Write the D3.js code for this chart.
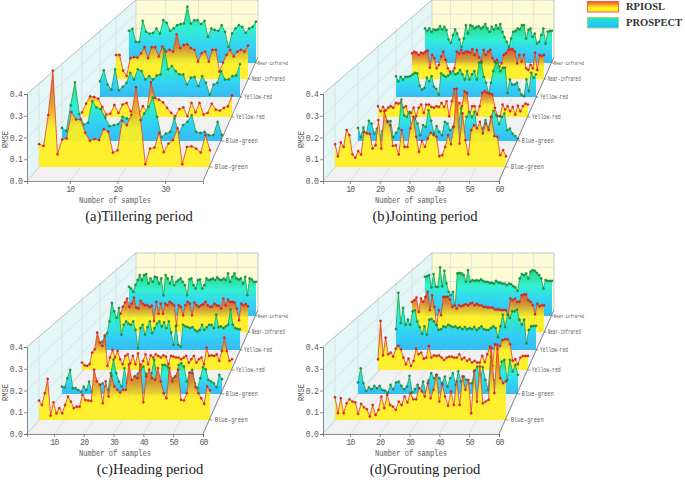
<!DOCTYPE html>
<html><head><meta charset="utf-8">
<script src="https://cdn.jsdelivr.net/npm/d3@7"></script>
<style>html,body{margin:0;background:#fff}svg{display:block}</style></head>
<body><div id="c"></div>
<script>
const bandLabels=["Blue-green","Blue-green","Yellow-red","Yellow-red","Near-infrared","Near-infrared"];
const methodLabels=["RPIOSL","PROSPECT"];
const rmseTicks=[0,0.1,0.2,0.3,0.4];
const titles=["(a)Tillering period","(b)Jointing period","(c)Heading period","(d)Grouting period"];
const sampleTicks38=[10,20,30];
const sampleTicks60=[10,20,30,40,50,60];

const tilleringBlueR=[.108,.100,.246,.456,.060,.130,.135,.260,.225,.225,.162,.124,.132,.127,.179,.167,.068,.079,.219,.198,.246,.378,.222,.013,.087,.092,.162,.070,.111,.127,.183,.013,.095,.098,.087,.068,.151,.079];
const tilleringBlueP=[.066,.051,.180,.297,.136,.083,.092,.202,.169,.161,.119,.075,.080,.085,.122,.114,.114,.122,.102,.139,.173,.220,.122,.020,.037,.046,.114,.041,.080,.097,.131,.046,.041,.046,.029,.029,.097,.029];
const tilleringYellowR=[.025,.072,.112,.108,.099,.054,.013,.018,.065,.022,.067,.076,.031,.025,.013,.058,.031,.187,.103,.094,.079,.049,.022,.004,.043,.052,.004,.076,.025,.076,.013,.022,.072,.040,.034,.049,.058,.117];
const tilleringYellowP=[.090,.152,.071,.042,.158,.038,.058,.081,.138,.100,.158,.148,.100,.119,.100,.123,.129,.273,.158,.177,.148,.129,.129,.071,.110,.115,.062,.119,.081,.013,.071,.081,.148,.100,.100,.119,.123,.187];
const tilleringNirR=[.147,.147,.051,.018,.127,.133,.131,.157,.194,.127,.194,.194,.137,.198,.167,.178,.167,.273,.188,.208,.212,.188,.178,.106,.157,.167,.106,.178,.178,.045,.100,.147,.178,.137,.167,.178,.167,.204];
const tilleringNirP=[.204,.217,.134,.134,.268,.198,.187,.191,.219,.187,.272,.255,.204,.219,.240,.247,.251,.357,.251,.272,.272,.247,.268,.166,.219,.209,.204,.240,.198,.102,.187,.219,.240,.230,.191,.219,.230,.262];

const jointingBlueR=[.108,.051,.116,.095,.175,.151,.060,.044,.075,.059,.165,.159,.156,.087,.103,.222,.087,.265,.214,.198,.100,.103,.059,.175,.095,.095,.183,.238,.143,.071,.124,.095,.135,.162,.151,.143,.051,.056,.095,.151,.108,.190,.370,.111,.254,.127,.060,.175,.198,.183,.214,.159,.206,.175,.238,.146,.143,.056,.080,.051];
const jointingBlueP=[.066,.020,.068,.029,.102,.088,.037,.063,.020,.050,.122,.100,.100,.020,.041,.063,.210,.130,.122,.147,.020,.114,.088,.029,.080,.071,.156,.102,.037,.075,.046,.029,.097,.088,.054,.071,.114,.071,.165,.046,.122,.147,.122,.147,.046,.054,.063,.105,.063,.122,.153,.131,.085,.122,.139,.054,.063,.037,.025,.012];
const jointingYellowR=[.058,.031,.054,.036,.050,.058,.050,.076,.072,.079,.050,.058,.013,.022,.050,.004,.050,.067,.022,.067,.067,.054,.050,.058,.054,.076,.054,.085,.004,.085,.151,.040,.076,.058,.139,.130,.004,.058,.058,.013,.058,.130,.139,.130,.126,.121,.049,.004,.004,.067,.040,.058,.031,.054,.013,.061,.031,.058,.072,.067];
const jointingYellowP=[.119,.090,.115,.100,.115,.115,.119,.129,.138,.135,.065,.042,.052,.110,.090,.119,.058,.046,.013,.135,.123,.115,.123,.135,.148,.129,.135,.154,.129,.100,.148,.100,.129,.148,.100,.196,.196,.115,.081,.019,.081,.148,.196,.196,.148,.167,.167,.023,.100,.071,.071,.081,.042,.013,.004,.100,.033,.138,.110,.129];
const jointingNirR=[.157,.167,.161,.147,.161,.157,.167,.173,.069,.147,.127,.065,.086,.137,.167,.116,.065,.045,.024,.065,.167,.157,.178,.157,.167,.167,.161,.182,.147,.178,.133,.106,.178,.147,.167,.178,.127,.106,.116,.076,.096,.147,.157,.178,.182,.182,.167,.096,.147,.106,.147,.065,.055,.086,.065,.161,.055,.147,.141,.147];
const jointingNirP=[.219,.204,.219,.198,.213,.209,.213,.234,.213,.230,.209,.149,.128,.177,.213,.187,.149,.102,.155,.240,.187,.240,.234,.219,.230,.234,.219,.230,.247,.219,.198,.230,.213,.240,.219,.247,.198,.162,.134,.102,.155,.198,.204,.219,.213,.240,.240,.155,.209,.219,.166,.187,.123,.134,.177,.219,.123,.198,.204,.204];

const headingBlueR=[.092,.071,.127,.195,.021,.083,.032,.056,.032,.071,.111,.087,.056,.063,.063,.119,.095,.092,.090,.238,.183,.167,.079,.183,.111,.210,.159,.143,.130,.143,.143,.262,.190,.206,.198,.262,.084,.206,.238,.198,.190,.246,.183,.127,.103,.246,.183,.206,.238,.095,.092,.127,.225,.222,.156,.127,.103,.076,.159,.140];
const headingBlueP=[.037,.034,.080,.122,.029,.029,.020,.012,.037,.020,.063,.012,.020,.029,.046,.054,.037,.020,.105,.173,.105,.063,.037,.131,.054,.020,.054,.088,.102,.122,.139,.102,.054,.105,.173,.080,.037,.147,.147,.139,.054,.080,.063,.147,.156,.139,.063,.105,.122,.054,.029,.080,.136,.125,.071,.063,.054,.034,.097,.075];
const headingYellowR=[.040,.025,.022,.031,.094,.112,.202,.148,.130,.187,.022,.067,.108,.067,.103,.058,.031,.076,.085,.036,.076,.031,.090,.013,.049,.085,.031,.079,.067,.085,.076,.067,.079,.072,.031,.076,.072,.067,.067,.058,.067,.076,.040,.058,.076,.040,.058,.067,.031,.121,.076,.079,.076,.085,.049,.103,.175,.103,.049,.058];
const headingYellowP=[.029,.048,.077,.096,.163,.269,.220,.183,.240,.087,.144,.163,.150,.144,.163,.115,.010,.125,.144,.087,.130,.163,.096,.125,.150,.163,.135,.158,.125,.163,.100,.029,.135,.029,.019,.144,.135,.131,.125,.131,.115,.106,.115,.144,.115,.130,.144,.144,.125,.202,.130,.135,.125,.135,.144,.231,.144,.125,.120,.119];
const headingNirR=[.061,.092,.112,.153,.180,.204,.153,.173,.210,.149,.143,.190,.173,.163,.163,.153,.160,.067,.184,.112,.173,.112,.173,.163,.184,.175,.163,.041,.163,.153,.102,.163,.184,.173,.102,.180,.163,.153,.163,.170,.184,.163,.153,.155,.173,.163,.160,.143,.204,.163,.198,.184,.184,.180,.143,.071,.173,.163,.170,.157];
const headingNirP=[.185,.174,.153,.196,.228,.260,.228,.260,.266,.206,.238,.217,.249,.245,.206,.238,.132,.260,.238,.206,.249,.196,.217,.228,.238,.217,.196,.132,.232,.238,.196,.174,.228,.232,.174,.196,.238,.228,.232,.238,.228,.245,.232,.228,.238,.228,.270,.217,.249,.270,.238,.232,.238,.206,.249,.132,.238,.232,.217,.217];

const groutingBlueR=[.108,.032,.103,.032,.079,.098,.087,.083,.029,.076,.060,.051,.016,.071,.024,.048,.111,.056,.119,.071,.063,.048,.087,.071,.111,.083,.127,.098,.098,.151,.135,.111,.175,.103,.143,.214,.087,.167,.111,.067,.135,.071,.183,.071,.206,.143,.190,.032,.230,.087,.254,.079,.087,.095,.341,.127,.357,.198,.175,.183];
const groutingBlueP=[.058,.130,.054,.015,.034,.024,.041,.029,.041,.020,.017,.007,.046,.024,.058,.063,.041,.024,.037,.092,.007,.024,.046,.020,.063,.007,.068,.105,.080,.097,.080,.054,.088,.037,.080,.105,.046,.114,.063,.088,.071,.054,.054,.119,.139,.054,.136,.071,.020,.190,.071,.054,.097,.164,.173,.071,.173,.114,.147,.097];
const groutingYellowR=[.058,.265,.079,.175,.085,.094,.072,.115,.130,.112,.067,.031,.061,.022,.049,.115,.085,.094,.061,.067,.130,.067,.079,.076,.079,.067,.054,.067,.072,.072,.067,.067,.085,.058,.067,.049,.058,.040,.049,.040,.040,.076,.043,.085,.126,.022,.139,.112,.130,.162,.166,.166,.139,.049,.058,.031,.067,.076,.076,.076];
const groutingYellowP=[.119,.327,.154,.240,.144,.173,.144,.221,.227,.163,.131,.092,.135,.087,.173,.177,.163,.144,.115,.119,.135,.131,.144,.138,.131,.135,.125,.131,.119,.131,.119,.125,.119,.131,.115,.125,.135,.119,.115,.115,.125,.135,.125,.073,.135,.202,.131,.202,.183,.221,.221,.231,.173,.144,.173,.038,.115,.135,.138,.138];
const groutingNirR=[.184,.194,.210,.122,.204,.184,.214,.245,.133,.224,.153,.041,.133,.102,.214,.214,.214,.198,.153,.163,.143,.163,.157,.163,.170,.163,.173,.178,.163,.173,.163,.163,.153,.153,.149,.149,.149,.137,.137,.137,.133,.133,.133,.102,.204,.194,.204,.184,.184,.224,.229,.229,.194,.184,.163,.108,.173,.157,.163,.163];
const groutingNirP=[.249,.253,.260,.181,.266,.185,.185,.309,.189,.287,.206,.153,.132,.153,.047,.270,.274,.270,.260,.217,.291,.217,.228,.223,.228,.223,.232,.223,.217,.217,.211,.211,.206,.223,.213,.211,.206,.206,.196,.206,.202,.189,.181,.160,.238,.266,.260,.270,.238,.281,.291,.287,.274,.260,.238,.174,.228,.223,.223,.223];

const panels=[
 {ox:27,oy:181,cx:139,n:38,ticks:sampleTicks38,series:[tilleringBlueR,tilleringBlueP,tilleringYellowR,tilleringYellowP,tilleringNirR,tilleringNirP]},
 {ox:323,oy:181,cx:425,n:60,ticks:sampleTicks60,series:[jointingBlueR,jointingBlueP,jointingYellowR,jointingYellowP,jointingNirR,jointingNirP]},
 {ox:27,oy:434,cx:150,n:60,ticks:sampleTicks60,series:[headingBlueR,headingBlueP,headingYellowR,headingYellowP,headingNirR,headingNirP]},
 {ox:323,oy:434,cx:425,n:60,ticks:sampleTicks60,series:[groutingBlueR,groutingBlueP,groutingYellowR,groutingYellowP,groutingNirR,groutingNirP]}
];

const W=685,H=480,frontW=176;
const depths=[0,1,2,3,4,5,6];
const rise=d3.scaleLinear().domain(depths).range([14,40,64,84,102,118,124]);
const leftIn=d3.scaleLinear().domain(depths).range([12,35,55,73,89,102,109]);
const rightOut=d3.scaleLinear().domain(depths).range([7,19,29,37,45,53,55]);
const unit=d3.scaleLinear().domain(depths).range([84.5,79,74,70,65.5,63,57]);
const labelFont=d3.scaleLinear().domain([0,5]).range([8,6.2]);
const labelWidth=[33,32,29,28,33,30];
const labelGap=[4.7,3.7,3.7,4,3.7,2];

const svg=d3.select("#c").append("svg").attr("width",W).attr("height",H)
  .style("font-family","'Liberation Mono','DejaVu Sans Mono',monospace");
const defs=svg.append("defs");
const ink="#5c5c5c";

const warm=[[0,"#ffef1e"],[.4,"#fff01e"],[.68,"#dd9428"],[1,"#f0402a"]];
const cool=[[0,"#27b6f4"],[.33,"#22d2f4"],[.62,"#22f0cf"],[1,"#1ad070"]];
function grad(id,y1,y2,stops){
  const g=defs.append("linearGradient").attr("id",id).attr("gradientUnits","userSpaceOnUse")
    .attr("x1",0).attr("x2",0).attr("y1",y1).attr("y2",y2);
  stops.forEach(s=>g.append("stop").attr("offset",s[0]).attr("stop-color",s[1]));
}
function squeezed(sel,size,width){
  return sel.attr("font-size",size).attr("textLength",width).attr("lengthAdjust","spacingAndGlyphs").attr("fill",ink);
}

panels.forEach((p,pi)=>{
  const g=svg.append("g");
  const ox=p.ox,oy=p.oy;
  const xFront=d3.scaleLinear().domain([1,p.n]).range([ox,ox+frontW]);
  const xBack=d3.scaleLinear().domain([1,p.n]).range([ox+leftIn(6),ox+frontW+rightOut(6)]);
  const yFront=d3.scaleLinear().domain([0,.4]).range([oy,oy-87]);
  const by=oy-rise(6), bTop=by-57;
  const bl=ox+leftIn(6), br=ox+frontW+rightOut(6);
  const gridC="#cfdcdc";
  g.append("path").attr("d",d3.line()([[ox,oy],[ox+frontW,oy],[br,by],[bl,by]])+"Z").attr("fill","#f1f1f1");
  g.append("path").attr("d",d3.line()([[ox,oy],[ox,oy-87],[bl,bTop],[bl,by]])+"Z").attr("fill","#e5f6f6");
  g.append("rect").attr("x",bl).attr("y",bTop).attr("width",br-bl).attr("height",57).attr("fill","#fdfcd4");
  rmseTicks.slice(1).forEach(v=>{
    const yb=by-57*v/.4;
    g.append("path").attr("d",d3.line()([[ox,yFront(v)],[bl,yb],[br,yb]])).attr("fill","none").attr("stroke",gridC).attr("stroke-width",.7);
  });
  p.ticks.forEach(t=>{
    g.append("path").attr("d",d3.line()([[xFront(t),oy],[xBack(t),by],[xBack(t),bTop]])).attr("fill","none").attr("stroke",gridC).attr("stroke-width",.7);
  });
  depths.slice(0,5).forEach(d=>{
    const x=ox+leftIn(d),y=oy-rise(d);
    g.append("path").attr("d",d3.line()([[x,y],[x,y-unit(d)]])).attr("fill","none").attr("stroke",gridC).attr("stroke-width",.7);
  });
  g.append("path").attr("d",d3.line()([[bl,by],[bl,bTop],[br,bTop],[br,by]])).attr("fill","none").attr("stroke","#bfc9c9").attr("stroke-width",.7);
  g.append("path").attr("d",d3.line()([[ox,oy-87],[bl,bTop]])).attr("fill","none").attr("stroke","#aebcbc").attr("stroke-width",.8);
  g.append("path").attr("d",d3.line()([[ox,oy],[bl,by]])).attr("fill","none").attr("stroke","#bbb").attr("stroke-width",.7);

  d3.range(5,-1,-1).forEach(d=>{
    const vals=p.series[d], warmSeries=d%2===0;
    const base=oy-rise(d);
    const x=d3.scaleLinear().domain([0,vals.length-1]).range([ox+leftIn(d),ox+frontW+rightOut(d)]);
    const y=d3.scaleLinear().domain([0,.4]).range([base,base-unit(d)]);
    const id=`g${pi}_${d}`;
    grad(id,base,y(d3.max(vals)),warmSeries?warm:cool);
    const rg=g.append("g");
    rg.append("path").datum(vals).attr("fill",`url(#${id})`).attr("fill-opacity",.92)
      .attr("d",d3.area().x((v,i)=>x(i)).y0(base).y1(v=>y(v)));
    rg.append("path").datum(vals).attr("fill","none").attr("stroke",warmSeries?"#e8452c":"#22a856").attr("stroke-width",.85)
      .attr("d",d3.line().x((v,i)=>x(i)).y(v=>y(v)));
    rg.selectAll("circle").data(vals).join("circle").attr("cx",(v,i)=>x(i)).attr("cy",v=>y(v)).attr("r",1.15)
      .attr("fill",warmSeries?"#e5262a":"#1c9a4a").attr("stroke",warmSeries?"#b02424":"#17783a").attr("stroke-width",.35);
  });

  const ya=g.append("g").attr("transform",`translate(${ox},0)`)
    .call(d3.axisLeft(yFront).tickValues(rmseTicks).tickFormat(d3.format(".1f")).tickSize(3).tickPadding(2));
  const xa=g.append("g").attr("transform",`translate(0,${oy})`)
    .call(d3.axisBottom(xFront).tickValues(p.ticks).tickFormat(d3.format("d")).tickSize(3).tickPadding(2));
  [ya,xa].forEach(a=>{
    a.selectAll("path,line").attr("stroke",ink).attr("stroke-width",.7);
    a.selectAll("text").attr("font-family","'Liberation Mono',monospace").attr("font-size",8.2).attr("letter-spacing",-.8).attr("fill",ink);
  });
  g.append("path").attr("d",d3.line()([[ox+frontW,oy],[br,by]])).attr("fill","none").attr("stroke",ink).attr("stroke-width",.7);
  bandLabels.forEach((lab,d)=>{
    const x=ox+frontW+rightOut(d), y=oy-rise(d);
    g.append("line").attr("x1",x).attr("x2",x+2.5).attr("y1",y).attr("y2",y).attr("stroke",ink).attr("stroke-width",.7);
    squeezed(g.append("text").attr("x",x+labelGap[d]).attr("y",y+2.4).text(lab),labelFont(d),labelWidth[d]);
  });
  squeezed(g.append("text").attr("x",ox+52).attr("y",oy+22).text("Number of samples"),8.6,72);
  squeezed(g.append("text").attr("transform",`translate(${ox-19},${oy-33}) rotate(-90)`).text("RMSE"),8.2,17);
  g.append("text").attr("x",p.cx).attr("y",oy+40).attr("text-anchor","middle").text(titles[pi])
    .attr("font-family","'Liberation Serif',serif").attr("font-size",14.6).attr("fill","#222");
});

const legY=[1,17];
grad("legW",12,1,[[0,"#ffef1e"],[.4,"#fff01e"],[1,"#f0402a"]]);
grad("legC",28,17,[[0,"#27b6f4"],[.5,"#22d2f4"],[1,"#22ee9b"]]);
methodLabels.forEach((m,i)=>{
  svg.append("rect").attr("x",587.5).attr("y",legY[i]+.5).attr("width",31).attr("height",10.5)
    .attr("fill",i?"url(#legC)":"url(#legW)").attr("stroke",i?"#9ad87a":"#e8604a").attr("stroke-width",1);
  svg.append("text").attr("x",626).attr("y",legY[i]+9).text(m)
    .attr("font-family","'Liberation Serif',serif").attr("font-weight","bold").attr("font-size",10.5).attr("fill","#333");
});
</script></body></html>
